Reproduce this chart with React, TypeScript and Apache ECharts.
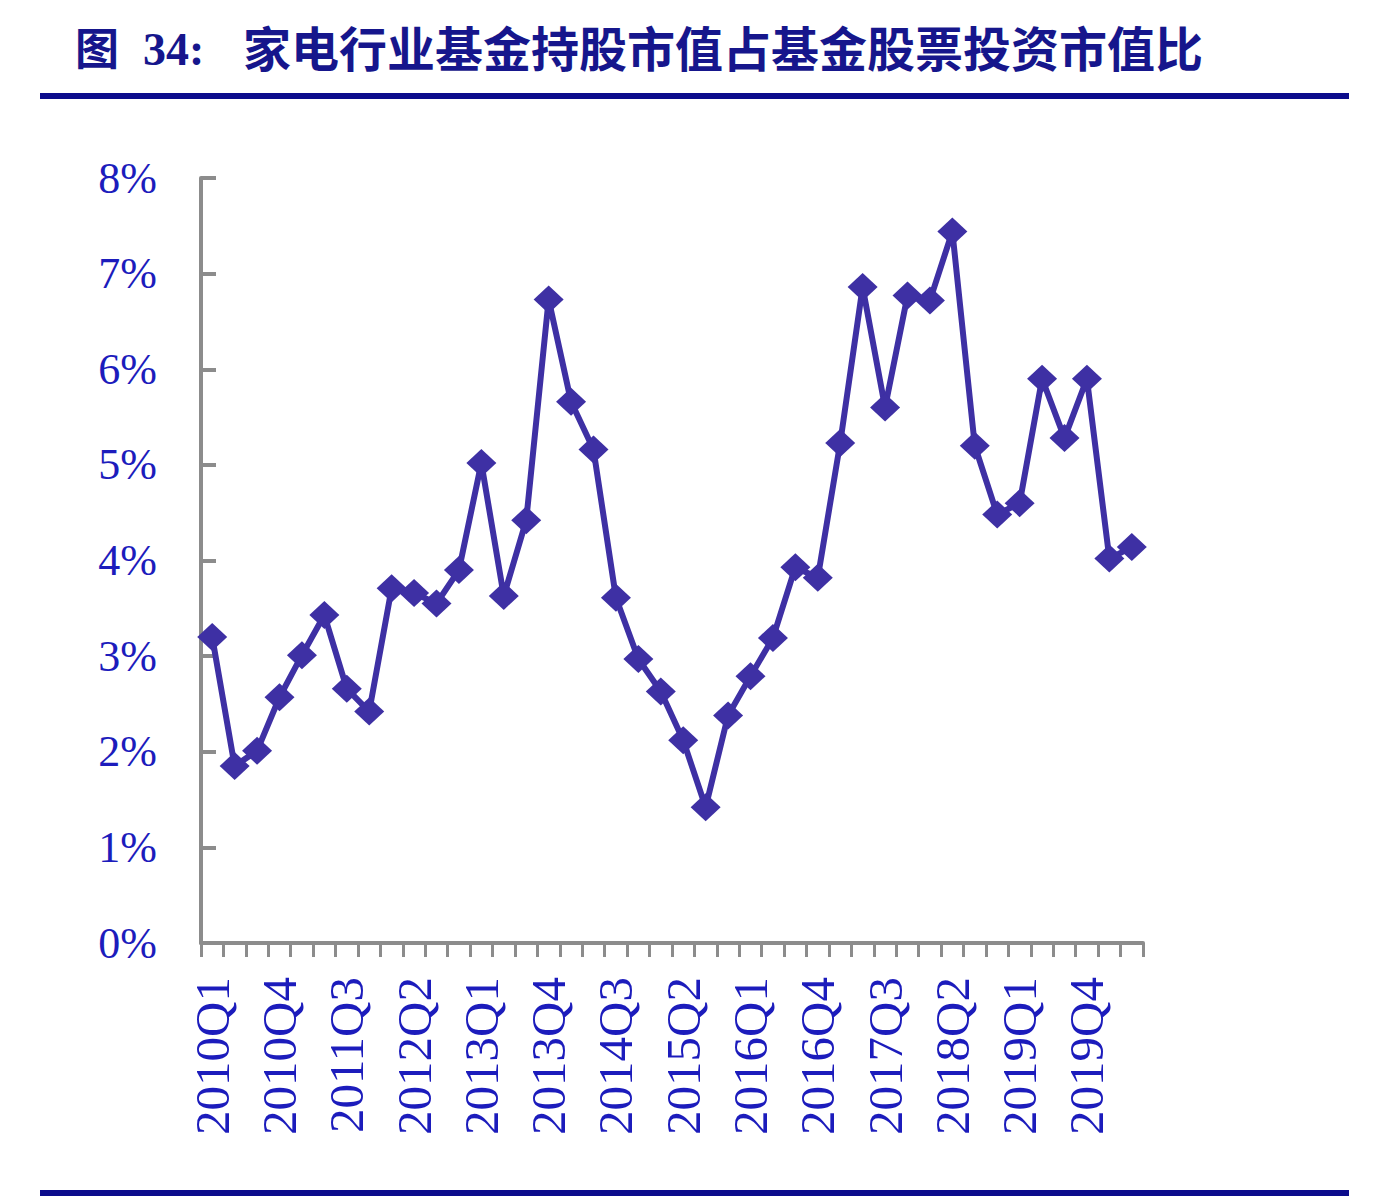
import React, { useEffect, useRef } from 'react';
import * as echarts from 'echarts';

// 季度标签 2010Q1 - 2020Q2
const quarters: string[] = [
  '2010Q1', '2010Q2', '2010Q3', '2010Q4',
  '2011Q1', '2011Q2', '2011Q3', '2011Q4',
  '2012Q1', '2012Q2', '2012Q3', '2012Q4',
  '2013Q1', '2013Q2', '2013Q3', '2013Q4',
  '2014Q1', '2014Q2', '2014Q3', '2014Q4',
  '2015Q1', '2015Q2', '2015Q3', '2015Q4',
  '2016Q1', '2016Q2', '2016Q3', '2016Q4',
  '2017Q1', '2017Q2', '2017Q3', '2017Q4',
  '2018Q1', '2018Q2', '2018Q3', '2018Q4',
  '2019Q1', '2019Q2', '2019Q3', '2019Q4',
  '2020Q1', '2020Q2',
];

// 家电行业基金持股市值占比 (%)
const ratio: number[] = [
  3.20, 1.85, 2.01, 2.57, 3.01, 3.43, 2.66, 2.42, 3.71, 3.66,
  3.55, 3.90, 5.02, 3.63, 4.42, 6.73, 5.66, 5.16, 3.61, 2.97,
  2.63, 2.12, 1.42, 2.38, 2.79, 3.19, 3.93, 3.82, 5.23, 6.86,
  5.60, 6.77, 6.72, 7.44, 5.20, 4.48, 4.60, 5.90, 5.28, 5.90,
  4.02, 4.14,
];

const TEXT_BLUE = '#1c1cbc';
const TITLE_BLUE = '#16168c';
const LINE_COLOR = '#3e30a4';
const AXIS_GRAY = '#8c8c8c';

const App: React.FC = () => {
  const chartRef = useRef<HTMLDivElement | null>(null);

  useEffect(() => {
    document.body.style.margin = '0';
    if (!chartRef.current) return;
    const chart = echarts.init(chartRef.current, undefined, { renderer: 'svg' });

    chart.setOption({
      animation: false,
      backgroundColor: '#ffffff',
      graphic: [
        {
          type: 'text',
          left: 75,
          top: 24,
          style: { text: '图', font: 'bold 44px "Noto Sans CJK SC"', fill: TITLE_BLUE },
        },
        {
          type: 'text',
          left: 143,
          top: 26,
          style: { text: '34:', font: 'bold 46px "Liberation Serif"', fill: TITLE_BLUE },
        },
        {
          type: 'text',
          left: 243,
          top: 22,
          style: {
            text: '家电行业基金持股市值占基金股票投资市值比',
            font: 'bold 48px "Noto Sans CJK SC"',
            fill: TITLE_BLUE,
          },
        },
        {
          type: 'rect',
          shape: { x: 40, y: 93, width: 1309, height: 6 },
          style: { fill: '#0c0c8c' },
        },
        {
          type: 'rect',
          shape: { x: 40, y: 1190, width: 1309, height: 6 },
          style: { fill: '#0c0c8c' },
        },
      ],
      grid: { left: 201, top: 178, width: 942, height: 765, containLabel: false },
      xAxis: {
        type: 'category',
        data: quarters,
        boundaryGap: true,
        axisLine: { lineStyle: { color: AXIS_GRAY, width: 4 } },
        axisTick: { show: true, interval: 0, length: 14, lineStyle: { color: AXIS_GRAY, width: 3 } },
        axisLabel: {
          interval: 2,
          rotate: 90,
          margin: 34,
          color: TEXT_BLUE,
          fontFamily: '"Liberation Serif", serif',
          fontSize: 49,
        },
        splitLine: { show: false },
      },
      yAxis: {
        type: 'value',
        min: 0,
        max: 8,
        interval: 1,
        axisLine: { show: true, lineStyle: { color: AXIS_GRAY, width: 4 } },
        axisTick: { show: true, inside: true, length: 15, lineStyle: { color: AXIS_GRAY, width: 4 } },
        axisLabel: {
          formatter: '{value}%',
          margin: 44,
          color: TEXT_BLUE,
          fontFamily: '"Liberation Serif", serif',
          fontSize: 44,
        },
        splitLine: { show: false },
      },
      series: [
        {
          type: 'line',
          data: ratio,
          symbol: 'diamond',
          symbolSize: [30, 28],
          showAllSymbol: true,
          lineStyle: { color: LINE_COLOR, width: 6 },
          itemStyle: { color: LINE_COLOR },
        },
      ],
    });

    return () => {
      chart.dispose();
    };
  }, []);

  return <div ref={chartRef} style={{ width: '1376px', height: '1196px', backgroundColor: 'white' }} />;
};

export default App;
